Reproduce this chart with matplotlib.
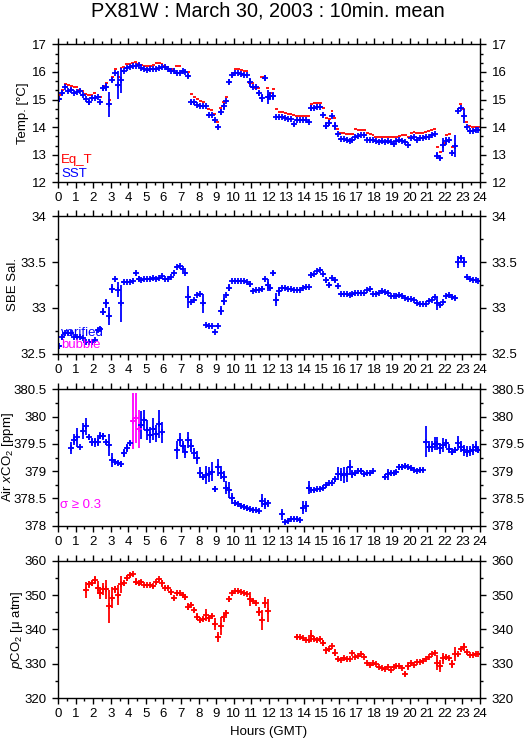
import numpy as np
import matplotlib
matplotlib.use("Agg")
import matplotlib.pyplot as plt
from matplotlib.ticker import MultipleLocator, FuncFormatter

plt.rcParams['font.family'] = ['Liberation Sans', 'DejaVu Sans']
plt.rcParams['mathtext.fontset'] = 'custom'
plt.rcParams['mathtext.rm'] = 'Liberation Sans'
plt.rcParams['mathtext.it'] = 'Liberation Sans:italic'
plt.rcParams['mathtext.sf'] = 'Liberation Sans'

nan = np.nan

# 10-minute means, one row per hour (6 slots each)
eq_t = [
    [15.18, 15.35, 15.58, 15.52, 15.48, 15.44],
    [15.45, 15.35, 15.30, 15.20, 15.15, 15.18],
    [15.25, 15.10, 15.08, 15.49, 15.59, 15.00],
    [15.80, 16.10, 15.80, 16.15, 16.17, 16.28],
    [16.30, 16.32, 16.37, 16.28, 16.25, 16.22],
    [16.22, 16.22, 16.25, 16.32, 16.32, 16.30],
    [16.22, 16.18, 16.12, 16.12, 16.20, 16.20],
    [16.00, 15.98, 15.98, 15.20, 15.08, 15.02],
    [14.95, 14.90, 14.75, 14.65, 14.62, 14.46],
    [14.20, 14.68, 14.90, 15.10, 15.65, 15.97],
    [16.10, 16.10, 16.08, 16.05, 16.05, 15.59],
    [15.59, 15.41, 15.41, 15.80, 15.80, 15.41],
    [15.22, 15.37, 14.65, 14.55, 14.54, 14.52],
    [14.48, 14.47, 14.45, 14.40, 14.40, 14.40],
    [14.40, 14.40, 14.84, 14.86, 14.86, 14.86],
    [14.70, 14.32, 14.30, 14.57, 14.32, 13.95],
    [13.80, 13.78, 13.76, 13.74, 13.76, 13.92],
    [13.88, 13.90, 13.90, 13.78, 13.75, 13.72],
    [13.65, 13.66, 13.65, 13.66, 13.65, 13.65],
    [13.66, 13.63, 13.68, 13.71, 13.70, 13.65],
    [13.80, 13.81, 13.78, 13.79, 13.80, 13.82],
    [13.85, 13.90, 13.92, 13.27, 13.09, 13.44],
    [13.72, 13.75, 13.29, 13.32, 14.65, 14.84],
    [14.65, 14.20, 14.05, 14.02, 14.02, 14.02],
]

sst = [
    [15.03, 15.25, 15.45, 15.30, 15.35, 15.25],
    [15.28, 15.30, 15.15, 15.02, 14.90, 15.05],
    [15.05, 15.08, 14.90, 15.42, 15.45, 14.82],
    [15.70, 15.95, 15.52, 15.70, 16.05, 16.15],
    [16.18, 16.20, 16.22, 16.25, 16.15, 16.12],
    [16.08, 16.10, 16.12, 16.12, 16.15, 16.18],
    [16.18, 16.12, 16.05, 16.02, 15.95, 15.97],
    [16.05, 16.00, 15.85, 14.90, 14.90, 14.80],
    [14.78, 14.78, 14.75, 14.45, 14.43, 14.25],
    [14.00, 14.55, 14.75, 14.95, 15.65, 15.88],
    [15.95, 15.95, 15.93, 15.90, 15.88, 15.62],
    [15.45, 15.45, 15.22, 15.05, 15.78, 15.10],
    [15.12, 15.12, 14.38, 14.37, 14.35, 14.33],
    [14.30, 14.28, 14.10, 14.25, 14.25, 14.25],
    [14.25, 14.20, 14.70, 14.70, 14.72, 14.72],
    [14.45, 14.05, 14.15, 14.40, 14.05, 13.75],
    [13.58, 13.57, 13.55, 13.50, 13.52, 13.65],
    [13.68, 13.72, 13.70, 13.55, 13.55, 13.55],
    [13.48, 13.47, 13.48, 13.46, 13.48, 13.45],
    [13.40, 13.50, 13.52, 13.50, 13.45, 13.35],
    [13.62, 13.65, 13.55, 13.62, 13.62, 13.65],
    [13.66, 13.70, 13.75, 12.97, 12.88, 13.35],
    [13.50, 13.52, 13.07, 13.30, 14.60, 14.68],
    [14.40, 14.02, 13.85, 13.85, 13.88, 13.88],
]

sst_err = [
    [0.03, 0.08, 0.05, 0.03, 0.05, 0.03],
    [0.03, 0.03, 0.03, 0.05, 0.10, 0.03],
    [0.03, 0.03, 0.05, 0.12, 0.15, 0.45],
    [0.08, 0.03, 0.50, 0.45, 0.03, 0.03],
    [0.03, 0.03, 0.03, 0.03, 0.03, 0.03],
    [0.03, 0.03, 0.03, 0.03, 0.03, 0.03],
    [0.03, 0.03, 0.03, 0.03, 0.03, 0.03],
    [0.03, 0.03, 0.08, 0.10, 0.05, 0.03],
    [0.03, 0.03, 0.03, 0.03, 0.03, 0.05],
    [0.07, 0.12, 0.12, 0.05, 0.08, 0.05],
    [0.03, 0.03, 0.03, 0.03, 0.03, 0.15],
    [0.03, 0.03, 0.10, 0.15, 0.10, 0.25],
    [0.15, 0.15, 0.03, 0.03, 0.03, 0.03],
    [0.03, 0.03, 0.06, 0.03, 0.03, 0.03],
    [0.03, 0.05, 0.10, 0.03, 0.03, 0.03],
    [0.03, 0.12, 0.12, 0.03, 0.15, 0.05],
    [0.03, 0.03, 0.03, 0.03, 0.03, 0.03],
    [0.03, 0.03, 0.03, 0.04, 0.03, 0.03],
    [0.03, 0.03, 0.03, 0.03, 0.03, 0.03],
    [0.03, 0.03, 0.03, 0.03, 0.03, 0.04],
    [0.03, 0.03, 0.03, 0.03, 0.03, 0.03],
    [0.03, 0.03, 0.03, 0.12, 0.07, 0.25],
    [0.15, 0.05, 0.05, 0.40, 0.05, 0.03],
    [0.25, 0.03, 0.03, 0.03, 0.03, 0.03],
]

sal = [
    [32.59, 32.68, 32.73, 32.73, 32.73, 32.69],
    [32.69, 32.69, 32.67, 32.63, 32.63, 32.63],
    [32.65, 32.76, 32.77, 32.96, 33.05, 32.91],
    [33.21, 33.32, 33.20, 33.05, 33.28, 33.28],
    [33.28, 33.29, 33.38, 33.32, 33.30, 33.31],
    [33.32, 33.32, 33.33, 33.32, 33.33, 33.35],
    [33.31, 33.31, 33.34, 33.38, 33.45, 33.46],
    [33.42, 33.38, 33.12, 33.06, 33.09, 33.14],
    [33.15, 33.05, 32.82, 32.80, 32.80, 32.74],
    [32.80, 32.97, 33.08, 33.14, 33.22, 33.29],
    [33.29, 33.29, 33.29, 33.29, 33.28, 33.26],
    [33.18, 33.20, 33.20, 33.21, 33.31, 33.25],
    [33.22, 33.38, 33.09, 33.18, 33.22, 33.22],
    [33.21, 33.21, 33.20, 33.20, 33.20, 33.22],
    [33.23, 33.23, 33.36, 33.37, 33.40, 33.41],
    [33.37, 33.30, 33.25, 33.33, 33.30, 33.24],
    [33.15, 33.15, 33.15, 33.14, 33.15, 33.16],
    [33.16, 33.16, 33.16, 33.20, 33.21, 33.15],
    [33.15, 33.16, 33.18, 33.17, 33.16, 33.13],
    [33.13, 33.13, 33.14, 33.13, 33.11, 33.10],
    [33.10, 33.09, 33.05, 33.04, 33.04, 33.04],
    [33.08, 33.09, 33.12, 33.05, 33.03, 33.07],
    [33.13, 33.14, 33.12, 33.11, 33.50, 33.54],
    [33.50, 33.34, 33.31, 33.30, 33.30, 33.29],
]

sal_err = [
    [0.01, 0.03, 0.01, 0.01, 0.01, 0.01],
    [0.01, 0.01, 0.01, 0.01, 0.01, 0.01],
    [0.01, 0.02, 0.02, 0.04, 0.05, 0.10],
    [0.05, 0.01, 0.08, 0.20, 0.01, 0.01],
    [0.01, 0.01, 0.01, 0.03, 0.01, 0.01],
    [0.01, 0.01, 0.01, 0.01, 0.01, 0.01],
    [0.01, 0.01, 0.01, 0.01, 0.01, 0.01],
    [0.01, 0.01, 0.12, 0.01, 0.01, 0.01],
    [0.01, 0.10, 0.01, 0.01, 0.01, 0.01],
    [0.01, 0.05, 0.05, 0.01, 0.04, 0.01],
    [0.01, 0.01, 0.01, 0.01, 0.01, 0.03],
    [0.01, 0.01, 0.01, 0.03, 0.01, 0.06],
    [0.02, 0.02, 0.07, 0.05, 0.01, 0.01],
    [0.01, 0.01, 0.01, 0.01, 0.01, 0.01],
    [0.01, 0.01, 0.03, 0.01, 0.01, 0.01],
    [0.01, 0.03, 0.02, 0.01, 0.02, 0.01],
    [0.01, 0.01, 0.01, 0.01, 0.01, 0.01],
    [0.01, 0.01, 0.01, 0.01, 0.01, 0.01],
    [0.01, 0.01, 0.01, 0.01, 0.01, 0.01],
    [0.01, 0.01, 0.01, 0.01, 0.01, 0.01],
    [0.01, 0.01, 0.01, 0.01, 0.01, 0.01],
    [0.01, 0.01, 0.01, 0.07, 0.02, 0.01],
    [0.01, 0.01, 0.02, 0.02, 0.07, 0.02],
    [0.05, 0.01, 0.01, 0.01, 0.01, 0.01],
]

xco2 = [
    [nan, nan, nan, nan, 379.42, 379.58],
    [379.62, 379.45, 379.74, 379.82, 379.62, 379.53],
    [379.53, 379.54, 379.65, 379.64, 379.53, 379.48],
    [379.20, 379.17, 379.15, 379.13, 379.33, 379.43],
    [379.51, 379.92, 379.98, 379.77, 379.85, 379.94],
    [379.75, 379.66, 379.78, 379.69, 379.86, 379.71],
    [nan, nan, nan, nan, 379.39, 379.58],
    [379.46, 379.36, 379.57, 379.47, 379.33, 379.25],
    [378.97, 378.89, 378.93, 378.94, 378.99, 378.67],
    [379.07, 378.97, 378.90, 378.70, 378.65, 378.50],
    [378.42, 378.40, 378.36, 378.35, 378.32, 378.30],
    [378.29, 378.28, 378.27, 378.46, 378.40, 378.41],
    [nan, nan, nan, nan, 378.21, 378.07],
    [378.09, 378.12, 378.13, 378.13, 378.10, 378.33],
    [378.36, 378.70, 378.65, 378.65, 378.67, 378.68],
    [378.69, 378.74, 378.78, 378.79, 378.85, 378.95],
    [378.94, 378.93, 378.94, 379.07, 378.95, 378.96],
    [379.01, 379.01, 378.95, 378.96, 378.96, 379.00],
    [nan, nan, nan, 378.90, 378.94, 378.96],
    [378.97, 378.99, 379.08, 379.08, 379.09, 379.07],
    [379.05, 379.02, 379.01, 379.02, 379.02, 379.54],
    [379.45, 379.45, 379.50, 379.50, 379.42, 379.48],
    [379.51, 379.41, 379.36, 379.39, 379.51, 379.45],
    [379.38, 379.36, 379.37, 379.39, 379.45, 379.38],
]

xco2_err = [
    [0.00, 0.00, 0.00, 0.00, 0.11, 0.10],
    [0.18, 0.02, 0.15, 0.16, 0.05, 0.07],
    [0.08, 0.08, 0.06, 0.06, 0.05, 0.20],
    [0.13, 0.04, 0.04, 0.05, 0.07, 0.07],
    [0.04, 0.52, 0.46, 0.35, 0.26, 0.18],
    [0.18, 0.15, 0.20, 0.15, 0.26, 0.20],
    [0.00, 0.00, 0.00, 0.00, 0.17, 0.12],
    [0.10, 0.12, 0.14, 0.12, 0.10, 0.12],
    [0.10, 0.05, 0.16, 0.14, 0.17, 0.06],
    [0.16, 0.12, 0.10, 0.12, 0.15, 0.10],
    [0.05, 0.04, 0.04, 0.05, 0.05, 0.03],
    [0.03, 0.03, 0.04, 0.12, 0.10, 0.07],
    [0.00, 0.00, 0.00, 0.00, 0.10, 0.04],
    [0.04, 0.03, 0.03, 0.03, 0.03, 0.12],
    [0.10, 0.12, 0.03, 0.03, 0.03, 0.03],
    [0.03, 0.03, 0.03, 0.03, 0.04, 0.12],
    [0.12, 0.14, 0.13, 0.14, 0.08, 0.04],
    [0.05, 0.04, 0.03, 0.03, 0.03, 0.03],
    [0.00, 0.00, 0.00, 0.04, 0.10, 0.04],
    [0.04, 0.04, 0.05, 0.05, 0.04, 0.03],
    [0.03, 0.03, 0.03, 0.03, 0.03, 0.28],
    [0.10, 0.10, 0.12, 0.12, 0.10, 0.12],
    [0.08, 0.08, 0.07, 0.06, 0.13, 0.10],
    [0.10, 0.10, 0.10, 0.10, 0.10, 0.05],
]

pco2 = [
    [nan, nan, nan, nan, nan, nan],
    [nan, nan, nan, 351.5, 353.1, 353.4],
    [354.4, 352.2, 350.7, 351.8, 351.7, 346.8],
    [349.2, 351.7, 350.0, 353.1, 353.4, 354.9],
    [355.8, 356.0, 353.9, 353.4, 353.9, 352.9],
    [352.9, 352.9, 352.6, 353.7, 354.6, 353.4],
    [352.2, 352.2, 350.8, 349.1, 350.5, 350.5],
    [350.0, 349.5, 346.6, 347.1, 345.7, 343.7],
    [342.8, 343.0, 344.2, 343.2, 343.9, 341.5],
    [337.9, 341.0, 343.5, 344.9, 348.8, 350.7],
    [351.2, 351.3, 351.0, 350.5, 350.3, 348.8],
    [348.4, 347.8, 345.2, 342.8, 347.8, 345.5],
    [nan, nan, nan, nan, nan, nan],
    [nan, nan, nan, 337.9, 337.7, 337.4],
    [336.9, 336.8, 338.1, 337.3, 336.9, 337.1],
    [336.0, 334.0, 334.2, 335.2, 333.3, 331.3],
    [331.1, 331.6, 331.4, 331.4, 333.1, 331.9],
    [332.3, 332.8, 332.1, 330.2, 329.7, 330.2],
    [330.0, 329.2, 328.9, 328.5, 329.0, 328.2],
    [329.2, 329.4, 329.4, 328.7, 327.0, 329.4],
    [330.2, 329.7, 330.5, 330.5, 330.7, 331.4],
    [332.1, 332.8, 333.3, 330.4, 329.4, 331.6],
    [331.9, 331.6, 330.0, 332.9, 332.8, 334.2],
    [334.8, 333.4, 332.6, 332.6, 332.8, 332.9],
]

pco2_err = [
    [0.0, 0.0, 0.0, 0.0, 0.0, 0.0],
    [0.0, 0.0, 0.0, 2.4, 1.0, 0.8],
    [1.2, 2.0, 1.7, 1.7, 2.7, 4.8],
    [3.1, 1.0, 3.0, 2.4, 0.8, 0.8],
    [0.6, 0.5, 1.0, 0.6, 0.5, 0.3],
    [0.3, 0.3, 0.4, 0.5, 0.5, 1.0],
    [0.5, 0.4, 0.8, 0.4, 0.4, 0.4],
    [0.5, 0.9, 1.0, 0.7, 0.6, 1.0],
    [0.6, 0.5, 1.7, 1.0, 0.6, 1.7],
    [1.5, 2.7, 1.2, 0.9, 0.9, 0.4],
    [0.3, 0.3, 0.3, 0.3, 0.3, 2.1],
    [0.4, 0.5, 1.2, 2.9, 1.7, 3.4],
    [0.0, 0.0, 0.0, 0.0, 0.0, 0.0],
    [0.0, 0.0, 0.0, 0.8, 0.4, 0.3],
    [0.3, 0.3, 1.7, 0.6, 0.4, 0.4],
    [0.8, 1.0, 0.5, 0.4, 1.1, 0.4],
    [0.4, 0.4, 0.4, 0.4, 0.3, 0.3],
    [0.3, 0.3, 0.3, 0.3, 0.3, 0.3],
    [0.3, 0.3, 0.3, 0.3, 0.3, 0.3],
    [0.3, 0.3, 0.3, 0.3, 0.6, 1.1],
    [0.4, 0.4, 0.3, 0.3, 0.3, 0.3],
    [0.3, 0.3, 0.3, 2.2, 1.7, 1.7],
    [0.7, 0.5, 1.2, 2.0, 0.5, 0.5],
    [1.2, 0.4, 0.3, 0.3, 0.3, 0.3],
]

# centre of each 10-min slot, in hours
hours = np.arange(144) / 6 + 1 / 12
half_slot = 1 / 12
sigma_limit = 0.3

BLUE = '#0000ff'
RED = '#ff0000'
MAGENTA = '#ff00ff'
FS = 9.5


def flat(rows):
    return np.array(rows, dtype=float).ravel()


def style_axes(ax, ylim, major, minor, ylabel, label_x):
    ax.set_xlim(0, 24)
    ax.set_ylim(*ylim)
    ax.xaxis.set_major_locator(MultipleLocator(1))
    ax.xaxis.set_minor_locator(MultipleLocator(0.5))
    ax.yaxis.set_major_locator(MultipleLocator(major))
    ax.yaxis.set_minor_locator(MultipleLocator(minor))
    ax.yaxis.set_major_formatter(FuncFormatter(lambda v, p: '%g' % round(v, 3)))
    ax.tick_params(which='both', direction='out', top=True, right=True,
                   labelright=True, labelsize=FS, width=1)
    ax.tick_params(which='major', length=4.3)
    ax.tick_params(which='minor', length=2.5)
    ax.tick_params(axis='y', pad=4)
    ax.tick_params(axis='x', pad=3)
    for s in ax.spines.values():
        s.set_linewidth(1)
    ax.text(label_x, 0.5, ylabel, rotation=90, ha='center', va='center',
            fontsize=FS, transform=ax.transAxes)


def draw(ax, y, err, color, plus=True):
    kw = dict(fmt='+' if plus else 'none', color=color, ecolor=color,
              elinewidth=1.3, capsize=0)
    if plus:
        kw.update(ms=4, mew=1.3)
    ax.errorbar(hours, y, xerr=half_slot, yerr=err, **kw)


fig = plt.figure(figsize=(5.29, 7.39), dpi=100)
L, W = 0.1096, 0.7977
ax1 = fig.add_axes([L, 0.7533, W, 0.1867])
ax2 = fig.add_axes([L, 0.5210, W, 0.1867])
ax3 = fig.add_axes([L, 0.2886, W, 0.1846])
ax4 = fig.add_axes([L, 0.0551, W, 0.1862])

# temperature
draw(ax1, flat(eq_t), None, RED, plus=False)
draw(ax1, flat(sst), flat(sst_err), BLUE)
style_axes(ax1, (12, 17), 1, 1 / 3, 'Temp. [°C]', -0.083)
ax1.text(0.007, 0.138, 'Eq_T', color=RED, fontsize=FS, transform=ax1.transAxes)
ax1.text(0.007, 0.040, 'SST', color=BLUE, fontsize=FS, transform=ax1.transAxes)

# salinity
draw(ax2, flat(sal), flat(sal_err), BLUE)
style_axes(ax2, (32.5, 34), 0.5, 0.25, 'SBE Sal.', -0.107)
ax2.text(0.007, 0.133, 'verified', color=BLUE, fontsize=FS, transform=ax2.transAxes)
ax2.text(0.007, 0.041, 'bubble', color=MAGENTA, fontsize=FS, transform=ax2.transAxes)

# air xCO2, flagged where sigma >= 0.3
xc = flat(xco2)
xe = flat(xco2_err)
bad = xe >= sigma_limit
ax3.errorbar(hours[~bad], xc[~bad], xerr=half_slot, yerr=xe[~bad], fmt='+',
             color=BLUE, ecolor=BLUE, elinewidth=1.3, ms=4, mew=1.3, capsize=0)
ax3.errorbar(hours[bad], xc[bad], xerr=half_slot, yerr=xe[bad], fmt='+',
             color=MAGENTA, ecolor=MAGENTA, elinewidth=1.3, ms=4, mew=1.3, capsize=0)
style_axes(ax3, (378, 380.5), 0.5, 0.25, 'Air $x$CO$_2$ [ppm]', -0.118)
ax3.text(0.005, 0.132, 'σ ≥ 0.3', color=MAGENTA, fontsize=FS, transform=ax3.transAxes)

# seawater pCO2
draw(ax4, flat(pco2), flat(pco2_err), RED)
style_axes(ax4, (320, 360), 10, 5, '$p$CO$_2$ [μ atm]', -0.097)

fig.text(0.507, 0.977, 'PX81W : March 30, 2003 : 10min. mean', ha='center',
         va='baseline', fontsize=14.3)
fig.text(0.507, 0.005, 'Hours (GMT)', ha='center', va='baseline', fontsize=FS)

fig.savefig('out.png', dpi=100)
